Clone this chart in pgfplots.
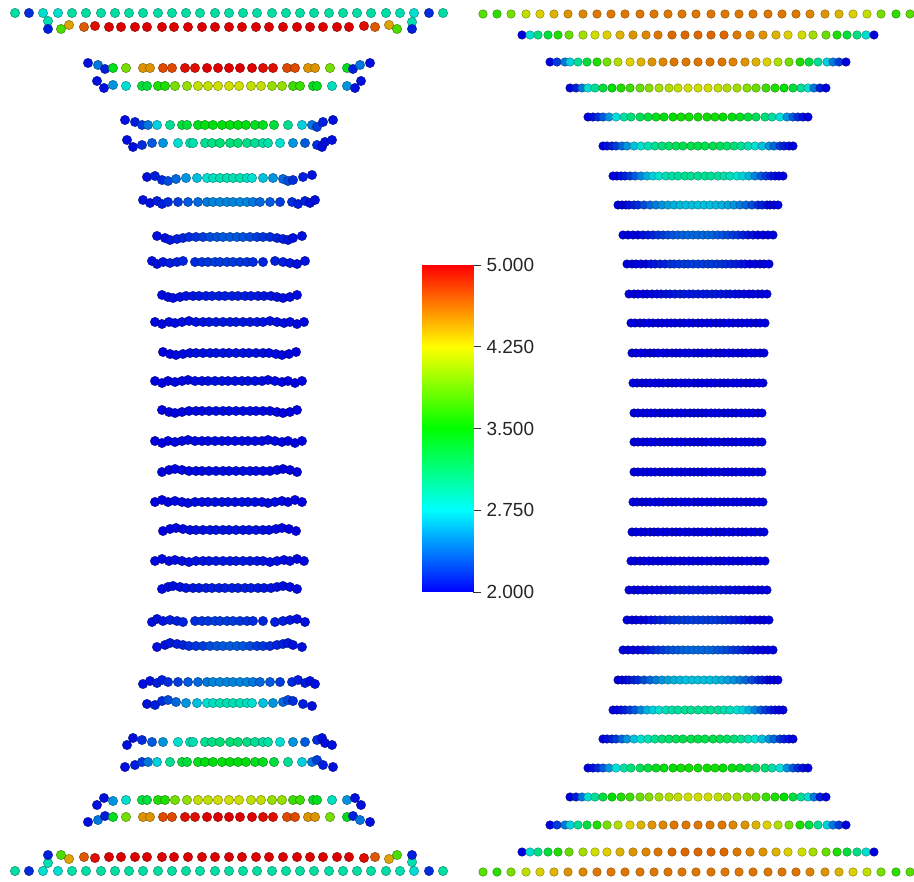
\documentclass[border=0pt]{standalone}
\usepackage{pgfplots}
\pgfplotsset{compat=1.18}
\pgfplotsset{colormap={pv}{rgb255=(0,0,255) rgb255=(0,255,255) rgb255=(0,255,0) rgb255=(255,255,0) rgb255=(255,0,0)}}
\usepackage{fontspec}
\setmainfont{Liberation Sans}
\begin{document}
\begin{tikzpicture}
\useasboundingbox (0pt,0pt) rectangle (914pt,882pt);
\begin{axis}[
  at={(0pt,0pt)}, anchor=south west,
  scale only axis, width=914pt, height=882pt,
  xmin=0, xmax=914, ymin=0, ymax=882, y dir=reverse,
  hide axis,
  point meta min=2, point meta max=5,
  scatter/use mapped color={draw=mapped color!50!black, fill=mapped color!87!black},
]
% left panel
\addplot[scatter, only marks, mark=*, mark size=4.7pt, mark options={line width=0.4pt}, scatter src=explicit]
table[x index=0, y index=1, meta index=2] {
15 13 2.95
29 13 2.15
43 13 2.8
58 13 2.8
72 13 2.95
86 13 2.95
101 13 2.95
115 13 2.95
129 13 2.95
143 13 2.95
158 13 2.95
172 13 2.95
186 13 2.95
200 13 2.95
215 13 2.95
229 13 2.95
243 13 2.95
257 13 2.95
272 13 2.95
286 13 2.95
300 13 2.95
314 13 2.95
329 13 2.95
343 13 2.95
357 13 2.95
371 13 2.95
386 13 2.95
400 13 2.9
414 13 2.8
429 13 2.15
443 13 2.95
48 21 2.9
48 29 2.1
61 29 3.75
69 25 4.45
84 27 4.7
95 26 4.95
109 27 5
121 27 5
135 27 5
147 27 5
162 27 5
174 27 5
188 27 5
202 27 5
215 27 5
229 27 5
242 27 5
256 27 5
269 27 5
283 27 5
297 27 5
310 27 5
323 27 5
337 27 5
349 27 5
364 26 4.95
375 27 4.7
389 25 4.45
397 29 3.75
412 22 2.9
412 29 2.1
88 63 2.05
98 65 2.4
105 69 2.1
113 68 3.4
126 68 3.9
143 68 4.5
150 68 4.5
163 68 4.75
172 68 4.75
185 68 4.95
195 68 4.95
207 68 5
218 68 5
229 68 5
240 68 5
252 68 5
263 68 4.95
273 68 4.95
287 68 4.75
295 68 4.75
308 68 4.5
315 68 4.5
330 68 3.9
347 68 3.4
353 69 2.1
360 65 2.4
370 63 2.05
97 81 2.05
104 88 2.05
113 85 2.5
126 86 2.8
142 86 3.3
147 86 3.3
158 86 3.6
165 86 3.6
175 86 3.9
187 86 4.0
198 86 4.15
208 86 4.15
218 86 4.2
229 86 4.2
239 86 4.2
251 86 4.15
261 86 4.15
272 86 4.0
282 86 4.0
293 86 3.7
300 86 3.7
313 86 3.4
317 86 3.4
332 86 2.85
347 86 2.5
355 88 2.05
361 81 2.05
125 120 2.05
135 122 2.1
142 125 2.2
148 125 2.4
157 125 2.7
170 125 3.0
182 125 3.3
187 125 3.3
198 125 3.4
205 125 3.45
213 125 3.45
222 125 3.45
230 125 3.45
238 125 3.45
246 125 3.45
255 125 3.4
263 125 3.4
274 125 3.3
288 125 3.0
302 125 2.7
312 125 2.4
317 127 2.2
323 122 2.1
333 120 2.05
127 140 2.05
133 147 2.05
142 145 2.15
152 143 2.3
163 143 2.5
178 143 2.8
190 143 2.9
193 143 2.9
205 143 3.0
212 143 3.05
220 143 3.1
230 143 3.1
238 143 3.1
247 143 3.05
255 143 3.0
263 143 2.95
268 143 2.95
280 143 2.8
293 143 2.5
305 143 2.3
317 145 2.15
322 147 2.05
325 142 2.05
332 140 2.05
147 177 2.05
155 176 2.1
162 180 2.15
168 181 2.25
176 179 2.35
186 178 2.5
197 178 2.65
207 178 2.8
213 178 2.85
220 178 2.9
227 178 2.9
233 178 2.9
240 178 2.9
247 178 2.85
252 178 2.8
263 178 2.65
273 178 2.5
283 179 2.35
288 181 2.25
293 180 2.15
303 177 2.1
312 175 2.05
143 200 2.05
150 203 2.05
157 201 2.1
162 204 2.1
168 202 2.15
178 202 2.2
188 202 2.3
198 202 2.35
207 202 2.4
213 202 2.45
220 202 2.45
227 202 2.45
233 202 2.45
240 202 2.45
247 202 2.45
253 202 2.4
260 202 2.35
270 202 2.3
280 202 2.2
292 202 2.15
298 204 2.1
305 201 2.1
310 203 2.05
315 200 2.05
157 236 2.05
165 238 2.05
170 240 2.08
177 239 2.1
183 238 2.12
189 237 2.15
196 237 2.18
203 237 2.2
210 237 2.25
217 237 2.28
223 237 2.3
230 237 2.3
237 237 2.3
243 237 2.28
250 237 2.25
257 237 2.2
263 237 2.18
270 237 2.15
277 238 2.12
283 239 2.1
288 240 2.08
293 238 2.05
302 236 2.05
152 261 2.05
157 264 2.05
163 262 2.07
170 263 2.1
177 262 2.1
183 261 2.12
195 262 2.15
202 262 2.17
208 262 2.18
215 262 2.2
220 262 2.2
227 262 2.2
233 262 2.2
240 262 2.18
247 262 2.17
253 262 2.15
263 262 2.12
275 261 2.1
283 262 2.1
290 263 2.07
297 264 2.05
305 261 2.05
162 295 2.03
168 297 2.03
173 298 2.04
180 297 2.05
186 296 2.06
193 296 2.07
199 296 2.08
206 296 2.09
212 296 2.1
219 296 2.1
225 296 2.1
232 296 2.1
238 296 2.1
245 296 2.1
251 296 2.09
258 296 2.08
264 296 2.07
271 296 2.06
277 297 2.05
283 298 2.04
290 297 2.03
297 295 2.03
155 322 2.02
162 324 2.02
169 322 2.03
175 323 2.04
182 322 2.05
189 321 2.05
196 322 2.06
203 322 2.07
209 322 2.07
216 322 2.08
223 322 2.08
230 322 2.08
236 322 2.08
243 322 2.08
250 322 2.07
257 322 2.07
263 322 2.06
270 321 2.05
277 322 2.05
284 323 2.04
290 322 2.03
297 324 2.02
304 322 2.02
163 352 2
170 354 2
176 355 2.02
183 354 2.03
190 353 2.04
196 353 2.05
203 353 2.05
210 353 2.06
216 353 2.06
223 353 2.06
229 353 2.06
236 353 2.06
243 353 2.06
249 353 2.06
256 353 2.05
263 353 2.05
269 353 2.04
276 354 2.03
282 355 2.02
289 354 2
296 352 2
155 381 2
162 383 2
168 381 2
175 382 2.02
182 381 2.03
188 380 2.03
195 381 2.04
202 381 2.04
208 381 2.05
215 381 2.05
222 381 2.05
228 381 2.05
235 381 2.05
242 381 2.05
248 381 2.05
255 381 2.04
262 381 2.04
268 380 2.03
275 381 2.03
282 382 2.02
288 381 2
295 383 2
302 381 2
162 410 2
169 412 2
175 413 2
182 412 2.02
189 411 2.02
196 411 2.03
202 411 2.03
209 411 2.04
216 411 2.04
223 411 2.04
229 411 2.04
236 411 2.04
243 411 2.04
250 411 2.04
256 411 2.03
263 411 2.03
270 411 2.02
277 412 2.02
283 413 2
290 412 2
297 410 2
155 441 2
162 443 2
168 441 2
175 442 2.02
182 441 2.02
188 440 2.03
195 441 2.03
202 441 2.03
208 441 2.04
215 441 2.04
222 441 2.04
228 441 2.04
235 441 2.04
242 441 2.04
248 441 2.04
255 441 2.03
262 441 2.03
268 440 2.03
275 441 2.02
282 442 2.02
288 441 2
295 443 2
302 441 2
162 472 2
169 470 2
175 469 2
182 470 2.02
189 471 2.02
196 471 2.03
202 471 2.03
209 471 2.04
216 471 2.04
223 471 2.04
229 471 2.04
236 471 2.04
243 471 2.04
250 471 2.04
256 471 2.03
263 471 2.03
270 471 2.02
277 470 2.02
283 469 2
290 470 2
297 472 2
155 502 2
162 500 2
168 502 2
175 501 2.02
182 502 2.03
188 503 2.03
195 502 2.04
202 502 2.04
208 502 2.05
215 502 2.05
222 502 2.05
228 502 2.05
235 502 2.05
242 502 2.05
248 502 2.05
255 502 2.04
262 502 2.04
268 503 2.03
275 502 2.03
282 501 2.02
288 502 2
295 500 2
302 502 2
163 531 2
170 529 2
176 528 2.02
183 529 2.03
190 530 2.04
196 530 2.05
203 530 2.05
210 530 2.06
216 530 2.06
223 530 2.06
229 530 2.06
236 530 2.06
243 530 2.06
249 530 2.06
256 530 2.05
263 530 2.05
269 530 2.04
276 529 2.03
282 528 2.02
289 529 2
296 531 2
155 561 2.02
162 559 2.02
169 561 2.03
175 560 2.04
182 561 2.05
189 562 2.05
196 561 2.06
203 561 2.07
209 561 2.07
216 561 2.08
223 561 2.08
230 561 2.08
236 561 2.08
243 561 2.08
250 561 2.07
257 561 2.07
263 561 2.06
270 562 2.05
277 561 2.05
284 560 2.04
290 561 2.03
297 559 2.02
304 561 2.02
162 589 2.03
168 587 2.03
173 586 2.04
180 587 2.05
186 588 2.06
193 588 2.07
199 588 2.08
206 588 2.09
212 588 2.1
219 588 2.1
225 588 2.1
232 588 2.1
238 588 2.1
245 588 2.1
251 588 2.09
258 588 2.08
264 588 2.07
271 588 2.06
277 587 2.05
283 586 2.04
290 587 2.03
297 589 2.03
152 622 2.05
157 619 2.05
163 621 2.07
170 620 2.1
177 621 2.1
183 622 2.12
195 621 2.15
202 621 2.17
208 621 2.18
215 621 2.2
220 621 2.2
227 621 2.2
233 621 2.2
240 621 2.18
247 621 2.17
253 621 2.15
263 621 2.12
275 622 2.1
283 621 2.1
290 620 2.07
297 619 2.05
305 622 2.05
157 647 2.05
165 645 2.05
170 643 2.08
177 644 2.1
183 645 2.12
189 646 2.15
196 646 2.18
203 646 2.2
210 646 2.25
217 646 2.28
223 646 2.3
230 646 2.3
237 646 2.3
243 646 2.28
250 646 2.25
257 646 2.2
263 646 2.18
270 646 2.15
277 645 2.12
283 644 2.1
288 643 2.08
293 645 2.05
302 647 2.05
143 684 2.05
150 681 2.05
157 683 2.1
162 680 2.1
168 682 2.15
178 682 2.2
188 682 2.3
198 682 2.35
207 682 2.4
213 682 2.45
220 682 2.45
227 682 2.45
233 682 2.45
240 682 2.45
247 682 2.45
253 682 2.4
260 682 2.35
270 682 2.3
280 682 2.2
292 682 2.15
298 680 2.1
305 683 2.1
310 681 2.05
315 684 2.05
147 704 2.05
155 705 2.1
162 701 2.15
168 700 2.25
176 702 2.35
186 703 2.5
197 703 2.65
207 703 2.8
213 703 2.85
220 703 2.9
227 703 2.9
233 703 2.9
240 703 2.9
247 703 2.85
252 703 2.8
263 703 2.65
273 703 2.5
283 702 2.35
288 700 2.25
293 701 2.15
303 704 2.1
312 706 2.05
127 745 2.05
133 738 2.05
142 740 2.15
152 742 2.3
163 742 2.5
178 742 2.8
190 742 2.9
193 742 2.9
205 742 3.0
212 742 3.05
220 742 3.1
230 742 3.1
238 742 3.1
247 742 3.05
255 742 3.0
263 742 2.95
268 742 2.95
280 742 2.8
293 742 2.5
305 742 2.3
317 740 2.15
322 738 2.05
325 743 2.05
332 745 2.05
125 767 2.05
135 765 2.1
142 762 2.2
148 762 2.4
157 762 2.7
170 762 3.0
182 762 3.3
187 762 3.3
198 762 3.4
205 762 3.45
213 762 3.45
222 762 3.45
230 762 3.45
238 762 3.45
246 762 3.45
255 762 3.4
263 762 3.4
274 762 3.3
288 762 3.0
302 762 2.7
312 762 2.4
317 760 2.2
323 765 2.1
333 767 2.05
97 805 2.05
104 798 2.05
113 801 2.5
126 800 2.8
142 800 3.3
147 800 3.3
158 800 3.6
165 800 3.6
175 800 3.9
187 800 4.0
198 800 4.15
208 800 4.15
218 800 4.2
229 800 4.2
239 800 4.2
251 800 4.15
261 800 4.15
272 800 4.0
282 800 4.0
293 800 3.7
300 800 3.7
313 800 3.4
317 800 3.4
332 800 2.85
347 800 2.5
355 798 2.05
361 805 2.05
88 822 2.05
98 820 2.4
105 816 2.1
113 817 3.4
126 817 3.9
143 817 4.5
150 817 4.5
163 817 4.75
172 817 4.75
185 817 4.95
195 817 4.95
207 817 5
218 817 5
229 817 5
240 817 5
252 817 5
263 817 4.95
273 817 4.95
287 817 4.75
295 817 4.75
308 817 4.5
315 817 4.5
330 817 3.9
347 817 3.4
353 816 2.1
360 820 2.4
370 822 2.05
48 863 2.9
48 855 2.1
61 855 3.75
69 859 4.45
84 857 4.7
95 858 4.95
109 857 5
121 857 5
135 857 5
147 857 5
162 857 5
174 857 5
188 857 5
202 857 5
215 857 5
229 857 5
242 857 5
256 857 5
269 857 5
283 857 5
297 857 5
310 857 5
323 857 5
337 857 5
349 857 5
364 858 4.95
375 857 4.7
389 859 4.45
397 855 3.75
412 862 2.9
412 855 2.1
15 871 2.95
29 871 2.15
43 871 2.8
58 871 2.8
72 871 2.95
86 871 2.95
101 871 2.95
115 871 2.95
129 871 2.95
143 871 2.95
158 871 2.95
172 871 2.95
186 871 2.95
200 871 2.95
215 871 2.95
229 871 2.95
243 871 2.95
257 871 2.95
272 871 2.95
286 871 2.95
300 871 2.95
314 871 2.95
329 871 2.95
343 871 2.95
357 871 2.95
371 871 2.95
386 871 2.95
400 871 2.9
414 871 2.8
429 871 2.15
443 871 2.95
};
% right panel
\addplot[scatter, only marks, mark=*, mark size=4.3pt, mark options={line width=0.35pt}, scatter src=explicit]
table[x index=0, y index=1, meta index=2] {
483 14 3.8
497 14 3.65
511 14 3.9
526 14 4.15
540 14 4.3
554 14 4.4
568 14 4.5
583 14 4.55
597 14 4.6
611 14 4.6
625 14 4.6
640 14 4.6
654 14 4.6
668 14 4.6
682 14 4.6
696 14 4.6
711 14 4.6
725 14 4.6
739 14 4.6
753 14 4.6
768 14 4.6
782 14 4.6
796 14 4.6
810 14 4.55
825 14 4.5
839 14 4.4
853 14 4.3
867 14 4.15
881 14 3.9
896 14 3.65
910 14 3.8
522 35 2
530 35 2.8
538 35 3.05
548 35 3.3
558 35 3.6
569 35 3.85
583 35 4.05
595 35 4.2
607 35 4.3
620 35 4.4
633 35 4.5
646 35 4.55
658 35 4.6
672 35 4.65
685 35 4.65
698 35 4.65
711 35 4.65
724 35 4.65
737 35 4.6
750 35 4.55
763 35 4.5
776 35 4.4
788 35 4.3
802 35 4.2
813 35 4.05
826 35 3.85
837 35 3.6
847 35 3.3
857 35 3.05
866 35 2.8
874 35 2
550 62 2
557 62 2.2
565 62 2.4
570 62 2.7
578 62 3
587 62 3.3
597 62 3.6
607 62 3.9
618 62 4.1
630 62 4.3
641 62 4.4
652 62 4.5
663 62 4.55
674 62 4.6
686 62 4.6
698 62 4.6
710 62 4.6
722 62 4.6
733 62 4.55
745 62 4.5
756 62 4.4
767 62 4.3
778 62 4.1
789 62 3.9
800 62 3.6
809 62 3.3
818 62 3
827 62 2.7
833 62 2.4
839 62 2.2
846 62 2
570 88 2
576 88 2.1
582 88 2.4
588 88 2.8
595 88 3
603 88 3.3
612 88 3.5
621 88 3.6
630 88 3.7
640 88 3.85
649 88 3.95
659 88 4.05
669 88 4.1
678 88 4.15
688 88 4.2
698 88 4.2
708 88 4.2
718 88 4.15
727 88 4.1
737 88 4.05
747 88 3.95
756 88 3.85
766 88 3.7
775 88 3.6
784 88 3.5
793 88 3.3
801 88 3
808 88 2.8
814 88 2.4
820 88 2.1
826 88 2
588 117 2
593 117 2.05
598 117 2.15
603 117 2.3
609 117 2.5
616 117 2.75
624 117 2.95
631 117 3.1
640 117 3.2
648 117 3.3
656 117 3.4
664 117 3.45
673 117 3.5
681 117 3.55
689 117 3.55
698 117 3.55
707 117 3.55
715 117 3.55
723 117 3.5
732 117 3.45
740 117 3.4
748 117 3.3
756 117 3.2
765 117 3.1
772 117 2.95
780 117 2.75
787 117 2.5
793 117 2.3
798 117 2.15
803 117 2.05
808 117 2
603 146 2
607 146 2.05
612 146 2.1
616 146 2.2
622 146 2.35
627 146 2.5
634 146 2.65
641 146 2.8
648 146 2.9
655 146 3
662 146 3.1
669 146 3.15
676 146 3.2
683 146 3.25
691 146 3.25
698 146 3.25
705 146 3.25
713 146 3.25
720 146 3.2
727 146 3.15
734 146 3.1
741 146 3
748 146 2.9
755 146 2.8
762 146 2.65
769 146 2.5
774 146 2.35
780 146 2.2
784 146 2.1
789 146 2.05
793 146 2
613 176 2
617 176 2
621 176 2.05
625 176 2.1
630 176 2.2
635 176 2.3
641 176 2.45
647 176 2.6
653 176 2.7
659 176 2.8
666 176 2.88
672 176 2.93
678 176 2.97
685 176 3
691 176 3
698 176 3
705 176 3
711 176 3
718 176 2.97
724 176 2.93
730 176 2.88
737 176 2.8
743 176 2.7
749 176 2.6
755 176 2.45
761 176 2.3
766 176 2.2
771 176 2.1
775 176 2.05
779 176 2
783 176 2
618 205 2
622 205 2
626 205 2
629 205 2.05
634 205 2.1
638 205 2.15
644 205 2.25
650 205 2.35
656 205 2.42
662 205 2.5
668 205 2.55
674 205 2.6
680 205 2.62
686 205 2.65
692 205 2.65
698 205 2.65
704 205 2.65
710 205 2.65
716 205 2.62
722 205 2.6
728 205 2.55
734 205 2.5
740 205 2.42
746 205 2.35
752 205 2.25
758 205 2.15
762 205 2.1
767 205 2.05
770 205 2
774 205 2
778 205 2
623 235 2
628 235 2
633 235 2
638 235 2
643 235 2.05
648 235 2.08
653 235 2.12
658 235 2.17
663 235 2.2
668 235 2.25
673 235 2.28
678 235 2.3
683 235 2.33
688 235 2.35
693 235 2.35
698 235 2.35
703 235 2.35
708 235 2.35
713 235 2.33
718 235 2.3
723 235 2.28
728 235 2.25
733 235 2.2
738 235 2.17
743 235 2.12
748 235 2.08
753 235 2.05
758 235 2
763 235 2
768 235 2
773 235 2
627 264 2
632 264 2
636 264 2
641 264 2
646 264 2
651 264 2.05
655 264 2.07
660 264 2.1
665 264 2.12
670 264 2.15
674 264 2.17
679 264 2.18
684 264 2.2
688 264 2.2
693 264 2.2
698 264 2.2
703 264 2.2
708 264 2.2
712 264 2.2
717 264 2.18
722 264 2.17
726 264 2.15
731 264 2.12
736 264 2.1
741 264 2.07
745 264 2.05
750 264 2
755 264 2
760 264 2
764 264 2
769 264 2
629 294 2
634 294 2
638 294 2
643 294 2
647 294 2
652 294 2.02
657 294 2.03
661 294 2.04
666 294 2.05
670 294 2.06
675 294 2.07
680 294 2.08
684 294 2.08
689 294 2.08
693 294 2.08
698 294 2.08
703 294 2.08
707 294 2.08
712 294 2.08
716 294 2.08
721 294 2.07
726 294 2.06
730 294 2.05
735 294 2.04
739 294 2.03
744 294 2.02
749 294 2
753 294 2
758 294 2
762 294 2
767 294 2
631 323 2
635 323 2
640 323 2
644 323 2
649 323 2
653 323 2
658 323 2
662 323 2
667 323 2
671 323 2
675 323 2
680 323 2
684 323 2
689 323 2
693 323 2
698 323 2
702 323 2
707 323 2
711 323 2
716 323 2
720 323 2
724 323 2
729 323 2
733 323 2
738 323 2
742 323 2
747 323 2
751 323 2
756 323 2
760 323 2
765 323 2
632 353 2
636 353 2
641 353 2
645 353 2
650 353 2
654 353 2
658 353 2
663 353 2
667 353 2
672 353 2
676 353 2
680 353 2
685 353 2
689 353 2
694 353 2
698 353 2
702 353 2
707 353 2
711 353 2
716 353 2
720 353 2
724 353 2
729 353 2
733 353 2
738 353 2
742 353 2
746 353 2
751 353 2
755 353 2
760 353 2
764 353 2
633 383 2
637 383 2
642 383 2
646 383 2
650 383 2
655 383 2
659 383 2
663 383 2
668 383 2
672 383 2
676 383 2
681 383 2
685 383 2
689 383 2
694 383 2
698 383 2
702 383 2
707 383 2
711 383 2
715 383 2
720 383 2
724 383 2
728 383 2
733 383 2
737 383 2
741 383 2
746 383 2
750 383 2
754 383 2
759 383 2
763 383 2
634 413 2
638 413 2
643 413 2
647 413 2
651 413 2
655 413 2
660 413 2
664 413 2
668 413 2
672 413 2
677 413 2
681 413 2
685 413 2
690 413 2
694 413 2
698 413 2
702 413 2
706 413 2
711 413 2
715 413 2
719 413 2
724 413 2
728 413 2
732 413 2
736 413 2
741 413 2
745 413 2
749 413 2
753 413 2
758 413 2
762 413 2
634 442 2
638 442 2
643 442 2
647 442 2
651 442 2
655 442 2
660 442 2
664 442 2
668 442 2
672 442 2
677 442 2
681 442 2
685 442 2
690 442 2
694 442 2
698 442 2
702 442 2
706 442 2
711 442 2
715 442 2
719 442 2
724 442 2
728 442 2
732 442 2
736 442 2
741 442 2
745 442 2
749 442 2
753 442 2
758 442 2
762 442 2
634 472 2
638 472 2
643 472 2
647 472 2
651 472 2
655 472 2
660 472 2
664 472 2
668 472 2
672 472 2
677 472 2
681 472 2
685 472 2
690 472 2
694 472 2
698 472 2
702 472 2
706 472 2
711 472 2
715 472 2
719 472 2
724 472 2
728 472 2
732 472 2
736 472 2
741 472 2
745 472 2
749 472 2
753 472 2
758 472 2
762 472 2
633 502 2
637 502 2
642 502 2
646 502 2
650 502 2
655 502 2
659 502 2
663 502 2
668 502 2
672 502 2
676 502 2
681 502 2
685 502 2
689 502 2
694 502 2
698 502 2
702 502 2
707 502 2
711 502 2
715 502 2
720 502 2
724 502 2
728 502 2
733 502 2
737 502 2
741 502 2
746 502 2
750 502 2
754 502 2
759 502 2
763 502 2
632 532 2
636 532 2
641 532 2
645 532 2
650 532 2
654 532 2
658 532 2
663 532 2
667 532 2
672 532 2
676 532 2
680 532 2
685 532 2
689 532 2
694 532 2
698 532 2
702 532 2
707 532 2
711 532 2
716 532 2
720 532 2
724 532 2
729 532 2
733 532 2
738 532 2
742 532 2
746 532 2
751 532 2
755 532 2
760 532 2
764 532 2
631 561 2
635 561 2
640 561 2
644 561 2
649 561 2
653 561 2
658 561 2
662 561 2
667 561 2
671 561 2
675 561 2
680 561 2
684 561 2
689 561 2
693 561 2
698 561 2
702 561 2
707 561 2
711 561 2
716 561 2
720 561 2
724 561 2
729 561 2
733 561 2
738 561 2
742 561 2
747 561 2
751 561 2
756 561 2
760 561 2
765 561 2
629 590 2
634 590 2
638 590 2
643 590 2
647 590 2
652 590 2.02
657 590 2.03
661 590 2.04
666 590 2.05
670 590 2.06
675 590 2.07
680 590 2.08
684 590 2.08
689 590 2.08
693 590 2.08
698 590 2.08
703 590 2.08
707 590 2.08
712 590 2.08
716 590 2.08
721 590 2.07
726 590 2.06
730 590 2.05
735 590 2.04
739 590 2.03
744 590 2.02
749 590 2
753 590 2
758 590 2
762 590 2
767 590 2
627 620 2
632 620 2
636 620 2
641 620 2
646 620 2
651 620 2.05
655 620 2.07
660 620 2.1
665 620 2.12
670 620 2.15
674 620 2.17
679 620 2.18
684 620 2.2
688 620 2.2
693 620 2.2
698 620 2.2
703 620 2.2
708 620 2.2
712 620 2.2
717 620 2.18
722 620 2.17
726 620 2.15
731 620 2.12
736 620 2.1
741 620 2.07
745 620 2.05
750 620 2
755 620 2
760 620 2
764 620 2
769 620 2
623 650 2
628 650 2
633 650 2
638 650 2
643 650 2.05
648 650 2.08
653 650 2.12
658 650 2.17
663 650 2.2
668 650 2.25
673 650 2.28
678 650 2.3
683 650 2.33
688 650 2.35
693 650 2.35
698 650 2.35
703 650 2.35
708 650 2.35
713 650 2.33
718 650 2.3
723 650 2.28
728 650 2.25
733 650 2.2
738 650 2.17
743 650 2.12
748 650 2.08
753 650 2.05
758 650 2
763 650 2
768 650 2
773 650 2
618 680 2
622 680 2
626 680 2
629 680 2.05
634 680 2.1
638 680 2.15
644 680 2.25
650 680 2.35
656 680 2.42
662 680 2.5
668 680 2.55
674 680 2.6
680 680 2.62
686 680 2.65
692 680 2.65
698 680 2.65
704 680 2.65
710 680 2.65
716 680 2.62
722 680 2.6
728 680 2.55
734 680 2.5
740 680 2.42
746 680 2.35
752 680 2.25
758 680 2.15
762 680 2.1
767 680 2.05
770 680 2
774 680 2
778 680 2
613 710 2
617 710 2
621 710 2.05
625 710 2.1
630 710 2.2
635 710 2.3
641 710 2.45
647 710 2.6
653 710 2.7
659 710 2.8
666 710 2.88
672 710 2.93
678 710 2.97
685 710 3
691 710 3
698 710 3
705 710 3
711 710 3
718 710 2.97
724 710 2.93
730 710 2.88
737 710 2.8
743 710 2.7
749 710 2.6
755 710 2.45
761 710 2.3
766 710 2.2
771 710 2.1
775 710 2.05
779 710 2
783 710 2
603 739 2
607 739 2.05
612 739 2.1
616 739 2.2
622 739 2.35
627 739 2.5
634 739 2.65
641 739 2.8
648 739 2.9
655 739 3
662 739 3.1
669 739 3.15
676 739 3.2
683 739 3.25
691 739 3.25
698 739 3.25
705 739 3.25
713 739 3.25
720 739 3.2
727 739 3.15
734 739 3.1
741 739 3
748 739 2.9
755 739 2.8
762 739 2.65
769 739 2.5
774 739 2.35
780 739 2.2
784 739 2.1
789 739 2.05
793 739 2
588 768 2
593 768 2.05
598 768 2.15
603 768 2.3
609 768 2.5
616 768 2.75
624 768 2.95
631 768 3.1
640 768 3.2
648 768 3.3
656 768 3.4
664 768 3.45
673 768 3.5
681 768 3.55
689 768 3.55
698 768 3.55
707 768 3.55
715 768 3.55
723 768 3.5
732 768 3.45
740 768 3.4
748 768 3.3
756 768 3.2
765 768 3.1
772 768 2.95
780 768 2.75
787 768 2.5
793 768 2.3
798 768 2.15
803 768 2.05
808 768 2
570 797 2
576 797 2.1
582 797 2.4
588 797 2.8
595 797 3
603 797 3.3
612 797 3.5
621 797 3.6
630 797 3.7
640 797 3.85
649 797 3.95
659 797 4.05
669 797 4.1
678 797 4.15
688 797 4.2
698 797 4.2
708 797 4.2
718 797 4.15
727 797 4.1
737 797 4.05
747 797 3.95
756 797 3.85
766 797 3.7
775 797 3.6
784 797 3.5
793 797 3.3
801 797 3
808 797 2.8
814 797 2.4
820 797 2.1
826 797 2
550 825 2
557 825 2.2
565 825 2.4
570 825 2.7
578 825 3
587 825 3.3
597 825 3.6
607 825 3.9
618 825 4.1
630 825 4.3
641 825 4.4
652 825 4.5
663 825 4.55
674 825 4.6
686 825 4.6
698 825 4.6
710 825 4.6
722 825 4.6
733 825 4.55
745 825 4.5
756 825 4.4
767 825 4.3
778 825 4.1
789 825 3.9
800 825 3.6
809 825 3.3
818 825 3
827 825 2.7
833 825 2.4
839 825 2.2
846 825 2
522 852 2
530 852 2.8
538 852 3.05
548 852 3.3
558 852 3.6
569 852 3.85
583 852 4.05
595 852 4.2
607 852 4.3
620 852 4.4
633 852 4.5
646 852 4.55
658 852 4.6
672 852 4.65
685 852 4.65
698 852 4.65
711 852 4.65
724 852 4.65
737 852 4.6
750 852 4.55
763 852 4.5
776 852 4.4
788 852 4.3
802 852 4.2
813 852 4.05
826 852 3.85
837 852 3.6
847 852 3.3
857 852 3.05
866 852 2.8
874 852 2
483 872 3.8
497 872 3.65
511 872 3.9
526 872 4.15
540 872 4.3
554 872 4.4
568 872 4.5
583 872 4.55
597 872 4.6
611 872 4.6
625 872 4.6
640 872 4.6
654 872 4.6
668 872 4.6
682 872 4.6
696 872 4.6
711 872 4.6
725 872 4.6
739 872 4.6
753 872 4.6
768 872 4.6
782 872 4.6
796 872 4.6
810 872 4.55
825 872 4.5
839 872 4.4
853 872 4.3
867 872 4.15
881 872 3.9
896 872 3.65
910 872 3.8
};
\end{axis}
% colour bar
\begin{axis}[
  at={(422pt,290pt)}, anchor=south west,
  scale only axis, width=51pt, height=327pt,
  xmin=0, xmax=1, ymin=2, ymax=5,
  axis line style={draw=none},
  xtick=\empty,
  ytick={2,2.75,3.5,4.25,5},
  yticklabels={2.000,2.750,3.500,4.250,5.000},
  ytick pos=right, yticklabel pos=right,
  tick align=outside, major tick length=8pt,
  tick style={black!80, line width=0.9pt},
  yticklabel style={font=\fontsize{19}{19}\selectfont, text=black!85, xshift=2pt},
  point meta min=2, point meta max=5,
]
\addplot[surf, shader=interp, mesh/cols=2, point meta=y] coordinates {
(0,2) (1,2) (0,2.25) (1,2.25) (0,2.5) (1,2.5) (0,2.75) (1,2.75)
(0,3) (1,3) (0,3.25) (1,3.25) (0,3.5) (1,3.5) (0,3.75) (1,3.75)
(0,4) (1,4) (0,4.25) (1,4.25) (0,4.5) (1,4.5) (0,4.75) (1,4.75)
(0,5) (1,5)
};
\end{axis}
\end{tikzpicture}
\end{document}
